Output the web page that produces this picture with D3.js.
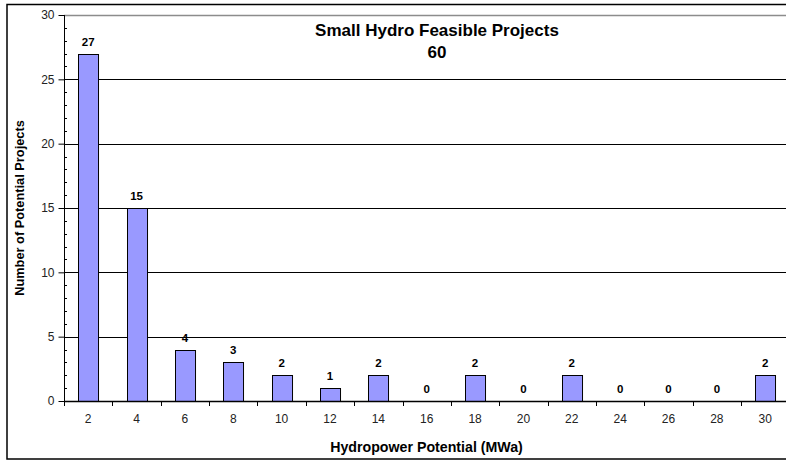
<!DOCTYPE html>
<html lang="en">
<head>
<meta charset="UTF-8">
<script src="https://cdn.jsdelivr.net/npm/d3@7"></script>
<title>Small Hydro Feasible Projects</title>
<style>
    body { margin: 0; background: #fff; overflow: hidden; }
    svg { display: block; font-family: Arial, "Liberation Sans", sans-serif; }
</style>
</head>
<body>
<script>
    // ---- data ----
    const categories = ["2", "4", "6", "8", "10", "12", "14", "16", "18", "20", "22", "24", "26", "28", "30"];
    const counts = [27, 15, 4, 3, 2, 1, 2, 0, 2, 0, 2, 0, 0, 0, 2];
    const yTicks = [0, 5, 10, 15, 20, 25, 30];
    const titleLines = ["Small Hydro Feasible Projects", "60"];
    const xTitle = "Hydropower Potential (MWa)";
    const yTitle = "Number of Potential Projects";

    const W = 786, H = 461;
    // plot area (right side runs past the window, as in the cropped reference)
    const plot = { left: 64, top: 15, right: 789.4, bottom: 401 };

    const svg = d3.select("body").append("svg")
        .attr("width", W)
        .attr("height", H);

    // outer chart border
    svg.append("rect")
        .attr("x", 7).attr("y", 4.5)
        .attr("width", 800).attr("height", 454.5)
        .attr("fill", "none")
        .attr("stroke", "#000")
        .attr("stroke-width", 1.5);

    const x = d3.scaleBand()
        .domain(categories)
        .range([plot.left, plot.right])
        .paddingInner(0.586)
        .paddingOuter(0.293);

    const y = d3.scaleLinear()
        .domain([0, 30])
        .range([plot.bottom, plot.top]);

    // gridlines
    svg.append("g")
        .selectAll("line")
        .data(yTicks.filter(d => d > 0))
        .join("line")
        .attr("x1", plot.left).attr("x2", plot.right)
        .attr("y1", d => Math.round(y(d)) + 0.5)
        .attr("y2", d => Math.round(y(d)) + 0.5)
        .attr("stroke", d => d === 30 ? "#8c8c8c" : "#000")
        .attr("stroke-width", d => d === 30 ? 1.5 : 1);

    const rows = categories.map((c, i) => ({ c, v: counts[i] }));

    // bars
    svg.append("g")
        .selectAll("rect")
        .data(rows.filter(d => d.v > 0))
        .join("rect")
        .attr("x", d => Math.round(x(d.c)) + 0.5)
        .attr("y", d => Math.round(y(d.v)) + 0.5)
        .attr("width", x.bandwidth())
        .attr("height", d => Math.round(y(0)) - Math.round(y(d.v)))
        .attr("fill", "#9999ff")
        .attr("stroke", "#000")
        .attr("stroke-width", 1);

    // value labels
    svg.append("g")
        .selectAll("text")
        .data(rows)
        .join("text")
        .attr("x", d => x(d.c) + x.bandwidth() / 2)
        .attr("y", d => y(d.v) - 8)
        .attr("text-anchor", "middle")
        .attr("font-size", "11.5px")
        .attr("font-weight", "bold")
        .attr("fill", "#000")
        .text(d => d.v);

    // y axis
    const yAxis = d3.axisLeft(y)
        .tickValues(yTicks)
        .tickSize(6)
        .tickPadding(4);
    const gy = svg.append("g")
        .attr("transform", `translate(${plot.left + 0.5},0)`)
        .call(yAxis);
    gy.select(".domain").attr("stroke", "#000").attr("d", `M0,${plot.top}V${plot.bottom}`);
    gy.selectAll(".tick line").attr("stroke", "#000");
    gy.selectAll(".tick text")
        .attr("font-size", "12px")
        .attr("font-family", "Arial, 'Liberation Sans', sans-serif")
        .attr("fill", "#222");

    // minor y ticks inside the plot
    svg.append("g")
        .selectAll("line")
        .data(d3.range(0, 31).filter(d => d % 5 !== 0))
        .join("line")
        .attr("x1", plot.left).attr("x2", plot.left + 3)
        .attr("y1", d => Math.round(y(d)) + 0.5)
        .attr("y2", d => Math.round(y(d)) + 0.5)
        .attr("stroke", "#000");

    // x axis line
    svg.append("line")
        .attr("x1", plot.left).attr("x2", plot.right)
        .attr("y1", plot.bottom + 0.5).attr("y2", plot.bottom + 0.5)
        .attr("stroke", "#000")
        .attr("stroke-width", 1.5);

    // x ticks between categories
    svg.append("g")
        .selectAll("line")
        .data(d3.range(categories.length + 1))
        .join("line")
        .attr("x1", i => Math.round(plot.left + i * x.step()) + 0.5)
        .attr("x2", i => Math.round(plot.left + i * x.step()) + 0.5)
        .attr("y1", plot.bottom)
        .attr("y2", plot.bottom + 5)
        .attr("stroke", "#000");

    // x tick labels
    svg.append("g")
        .selectAll("text")
        .data(categories)
        .join("text")
        .attr("x", d => x(d) + x.bandwidth() / 2)
        .attr("y", 423)
        .attr("text-anchor", "middle")
        .attr("font-size", "12px")
        .attr("fill", "#222")
        .text(d => d);

    // axis titles
    svg.append("text")
        .attr("x", 426.5)
        .attr("y", 452)
        .attr("text-anchor", "middle")
        .attr("font-size", "14.2px")
        .attr("font-weight", "bold")
        .text(xTitle);

    svg.append("text")
        .attr("transform", `translate(24,${(plot.top + plot.bottom) / 2}) rotate(-90)`)
        .attr("text-anchor", "middle")
        .attr("font-size", "12.8px")
        .attr("font-weight", "bold")
        .text(yTitle);

    // chart title
    svg.append("g")
        .selectAll("text")
        .data(titleLines)
        .join("text")
        .attr("x", 437)
        .attr("y", (d, i) => 36 + i * 22)
        .attr("text-anchor", "middle")
        .attr("font-size", "17px")
        .attr("font-weight", "bold")
        .text(d => d);
</script>
</body>
</html>
